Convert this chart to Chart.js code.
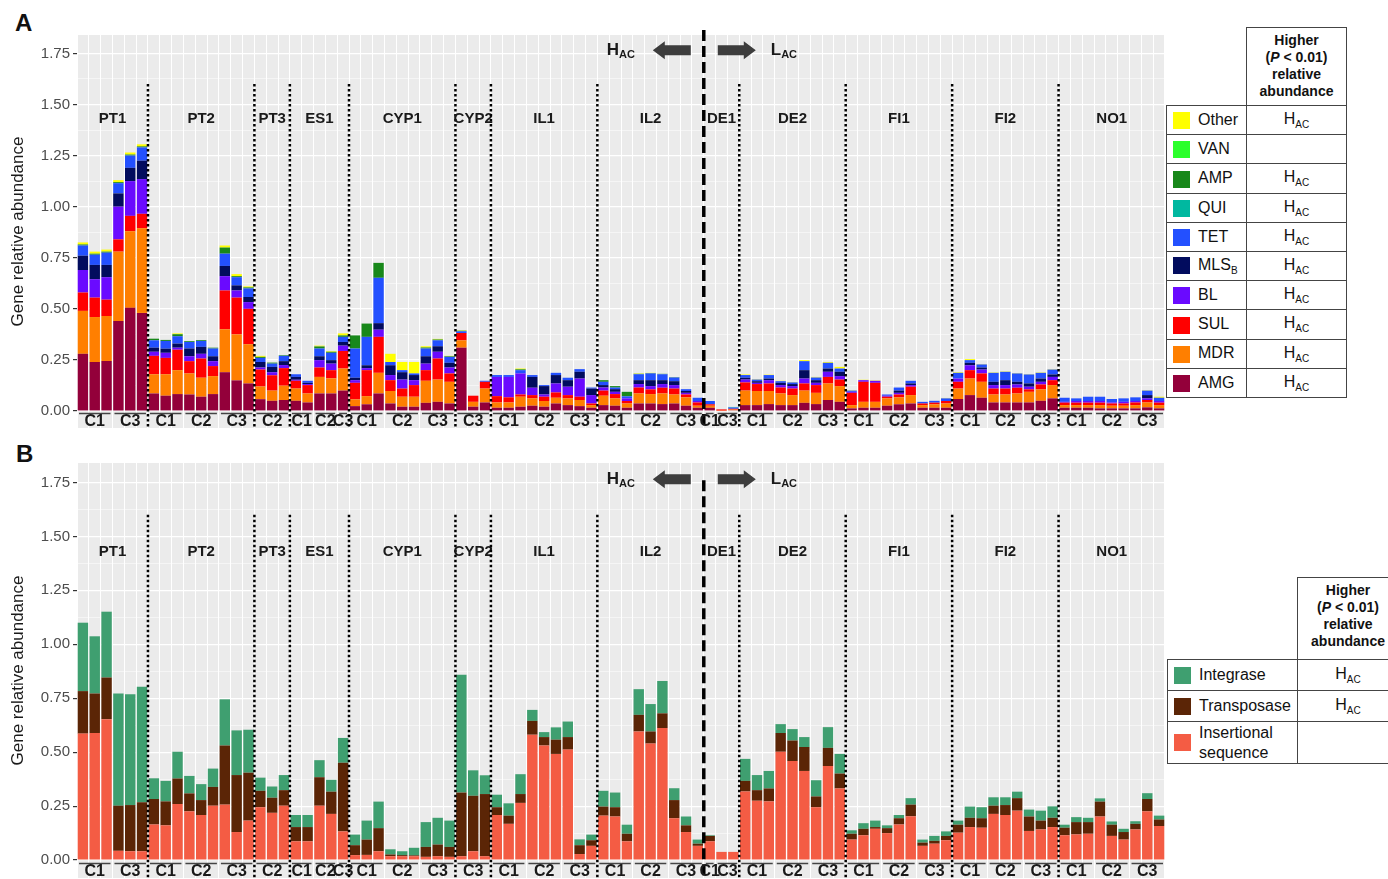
<!DOCTYPE html>
<html>
<head>
<meta charset="utf-8">
<script src="https://cdn.jsdelivr.net/npm/chart.js@4.4.1/dist/chart.umd.min.js"></script>
<style>
  html, body { margin: 0; padding: 0; background: #fff; }
  body { width: 1388px; height: 879px; overflow: hidden; position: relative; font-family: 'Liberation Sans', Arial, sans-serif; color: #111; }
  canvas { position: absolute; left: 0; }
  .letter { position: absolute; font-weight: bold; font-size: 24px; }
  .hdr { position: absolute; box-sizing: border-box; border: 1px solid #444; text-align: center; font-weight: bold; font-size: 14px; line-height: 17px; padding-top: 4px; background: #fff; }
  table.leg { position: absolute; border-collapse: collapse; font-size: 16px; background: #fff; }
  table.leg td { border: 1px solid #444; padding: 0; }
  table.leg td.k { white-space: nowrap; }
  table.leg td.v { text-align: center; }
  .sw { display: inline-block; width: 17px; height: 17px; vertical-align: middle; margin: 0 8px 0 6px; }
  sub { font-size: 10px; vertical-align: -4px; }
</style>
</head>
<body>
<div class="letter" style="left:15px;top:9px">A</div>
<div class="letter" style="left:16px;top:440px">B</div>
<canvas id="chartA" width="1166" height="430" style="top:0px"></canvas>
<canvas id="chartB" width="1166" height="445" style="top:435px"></canvas>
<div class="hdr" style="left:1246px;top:27px;width:101px;height:79px">Higher<br>(<i>P</i> &lt; 0.01)<br>relative<br>abundance</div>
<table class="leg" id="legA" style="left:1166px;top:105px;width:181px"></table>
<div class="hdr" style="left:1297px;top:577px;width:102px;height:83px">Higher<br>(<i>P</i> &lt; 0.01)<br>relative<br>abundance</div>
<table class="leg" id="legB" style="left:1167px;top:659px;width:232px"></table>
<script>
// sites, and the sub-groups (label, number of samples) under each one
const groups = ['PT1', 'PT2', 'PT3', 'ES1', 'CYP1', 'CYP2', 'IL1', 'IL2', 'DE1', 'DE2', 'FI1', 'FI2', 'NO1'];
const subGroups = [
  [['C1', 3], ['C3', 3]],
  [['C1', 3], ['C2', 3], ['C3', 3]],
  [['C2', 3]],
  [['C1', 2], ['C2', 2], ['C3', 1]],
  [['C1', 3], ['C2', 3], ['C3', 3]],
  [['C3', 3]],
  [['C1', 3], ['C2', 3], ['C3', 3]],
  [['C1', 3], ['C2', 3], ['C3', 3]],
  [['C1', 1], ['C3', 2]],
  [['C1', 3], ['C2', 3], ['C3', 3]],
  [['C1', 3], ['C2', 3], ['C3', 3]],
  [['C1', 3], ['C2', 3], ['C3', 3]],
  [['C1', 3], ['C2', 3], ['C3', 3]],
];
const lastHighGroup = 'IL2'; // H_AC sites end here, L_AC sites start after
const yTicks = [0, 0.25, 0.5, 0.75, 1, 1.25, 1.5, 1.75];
const yMinorTicks = [0.125, 0.375, 0.625, 0.875, 1.125, 1.375, 1.625];

// panel A: antibiotic resistance genes
const amg = [
  0.28, 0.24, 0.245, 0.44, 0.505, 0.48,
  0.086, 0.075, 0.083, 0.081, 0.07, 0.083, 0.19, 0.15, 0.135,
  0.058, 0.05, 0.054,
  0.05, 0.042, 0.086, 0.086, 0.1,
  0.024, 0.033, 0.086, 0.037, 0.021, 0.021, 0.04, 0.045, 0.037,
  0.31, 0.021, 0.042,
  0.016, 0.016, 0.021, 0.026, 0.021, 0.037, 0.029, 0.024, 0.016,
  0.029, 0.026, 0.016, 0.037, 0.037, 0.034, 0.037, 0.026, 0.016,
  0.016, 0, 0.004,
  0.029, 0.029, 0.034, 0.029, 0.029, 0.04, 0.034, 0.054, 0.045,
  0.013, 0.016, 0.016, 0.026, 0.033, 0.037, 0.016, 0.016, 0.016,
  0.059, 0.078, 0.065, 0.042, 0.042, 0.042, 0.042, 0.05, 0.062,
  0.016, 0.016, 0.016, 0.013, 0.013, 0.013, 0.013, 0.018, 0.013,
];
const mdr = [
  0.21, 0.22, 0.22, 0.34, 0.375, 0.415,
  0.094, 0.105, 0.117, 0.103, 0.093, 0.088, 0.21, 0.225, 0.192,
  0.062, 0.05, 0.07,
  0.06, 0.044, 0.081, 0.074, 0.108,
  0.033, 0.04, 0.101, 0.061, 0.049, 0.049, 0.108, 0.109, 0.106,
  0.036, 0.024, 0.068,
  0.026, 0.026, 0.049, 0.036, 0.028, 0.028, 0.033, 0.03, 0.013,
  0.046, 0.036, 0.021, 0.049, 0.046, 0.052, 0.044, 0.041, 0.01,
  0.01, 0.002, 0.003,
  0.071, 0.069, 0.064, 0.057, 0.049, 0.06, 0.055, 0.081, 0.077,
  0.016, 0.029, 0.029, 0.036, 0.034, 0.041, 0.013, 0.017, 0.021,
  0.051, 0.081, 0.078, 0.039, 0.039, 0.044, 0.052, 0.056, 0.065,
  0.013, 0.013, 0.013, 0.016, 0.013, 0.013, 0.016, 0.024, 0.016,
];
const sul = [
  0.09, 0.095, 0.08, 0.06, 0.075, 0.07,
  0.09, 0.08, 0.1, 0.06, 0.094, 0.049, 0.19, 0.18, 0.173,
  0.083, 0.075, 0.086,
  0.038, 0.041, 0.046, 0.04, 0.086,
  0.081, 0.127, 0.176, 0.053, 0.04, 0.057, 0.052, 0.103, 0.041,
  0.036, 0.03, 0.033,
  0.031, 0.025, 0.011, 0.016, 0.021, 0.026, 0.016, 0.016, 0.008,
  0.025, 0.021, 0.012, 0.029, 0.023, 0.028, 0.029, 0.014, 0.016,
  0.007, 0.006, 0.004,
  0.04, 0.034, 0.037, 0.029, 0.032, 0.035, 0.038, 0.032, 0.032,
  0.06, 0.098, 0.093, 0.008, 0.014, 0.041, 0.008, 0.008, 0.012,
  0.033, 0.041, 0.041, 0.029, 0.029, 0.028, 0.012, 0.024, 0.024,
  0.012, 0.012, 0.012, 0.012, 0.011, 0.011, 0.013, 0.012, 0.012,
];
const bl = [
  0.11, 0.09, 0.11, 0.16, 0.17, 0.17,
  0.02, 0.025, 0.01, 0.024, 0.023, 0.024, 0.07, 0.035, 0.033,
  0.01, 0.015, 0.015,
  0.005, 0.005, 0.036, 0.032, 0.026,
  0.013, 0.01, 0.035, 0.025, 0.044, 0.024, 0.032, 0.033, 0.029,
  0, 0, 0,
  0.094, 0.1, 0.103, 0.036, 0.011, 0.044, 0.041, 0.089, 0.041,
  0.015, 0.011, 0.013, 0.017, 0.016, 0.018, 0.017, 0.008, 0.007,
  0, 0, 0,
  0.014, 0.006, 0.016, 0.012, 0.012, 0.024, 0.011, 0.025, 0.017,
  0.005, 0.008, 0.01, 0.005, 0.008, 0.008, 0, 0, 0,
  0.016, 0.024, 0.019, 0.017, 0.017, 0.016, 0.013, 0.013, 0.016,
  0.004, 0.008, 0.008, 0.008, 0.005, 0.008, 0.007, 0.008, 0.008,
];
const mlsb = [
  0.07, 0.07, 0.06, 0.065, 0.065, 0.09,
  0.02, 0.02, 0.02, 0.038, 0.034, 0.024, 0.05, 0.025, 0.025,
  0.027, 0.026, 0.019,
  0.014, 0.006, 0.019, 0.017, 0.018,
  0.012, 0.014, 0.032, 0.048, 0.036, 0.025, 0.036, 0.027, 0.023,
  0, 0, 0,
  0, 0, 0, 0.053, 0.041, 0.041, 0.032, 0.033, 0.032,
  0.012, 0.013, 0, 0.019, 0.029, 0.019, 0.019, 0.009, 0,
  0, 0, 0,
  0.009, 0.008, 0.008, 0.011, 0.01, 0.041, 0.013, 0.016, 0.021,
  0, 0, 0, 0, 0.011, 0.008, 0, 0, 0,
  0, 0.012, 0.01, 0.016, 0.024, 0.013, 0.016, 0.016, 0.012,
  0, 0, 0, 0, 0, 0, 0, 0.016, 0,
];
const tet = [
  0.05, 0.05, 0.06, 0.05, 0.06, 0.065,
  0.036, 0.038, 0.036, 0.032, 0.029, 0.038, 0.06, 0.04, 0.042,
  0.02, 0.016, 0.026,
  0.013, 0.01, 0.038, 0.036, 0.025,
  0.143, 0.139, 0.222, 0.016, 0.01, 0.008, 0.038, 0.029, 0.029,
  0.008, 0, 0.005,
  0.009, 0.009, 0.016, 0.009, 0.005, 0.011, 0.012, 0.013, 0.005,
  0.016, 0.008, 0.01, 0.029, 0.033, 0.029, 0.018, 0.009, 0.016,
  0.016, 0, 0.006,
  0.013, 0.008, 0.017, 0.008, 0.008, 0.044, 0.013, 0.028, 0.016,
  0.006, 0, 0, 0.006, 0.015, 0.013, 0.008, 0.009, 0.013,
  0.028, 0.013, 0.015, 0.044, 0.041, 0.041, 0.044, 0.028, 0.024,
  0.02, 0.013, 0.021, 0.021, 0.017, 0.017, 0.018, 0.022, 0.016,
];
const qui = [
  0, 0, 0, 0, 0, 0,
  0, 0, 0, 0, 0, 0, 0, 0, 0,
  0, 0, 0,
  0, 0, 0, 0, 0,
  0, 0, 0, 0, 0, 0, 0, 0, 0,
  0, 0, 0,
  0, 0, 0, 0, 0, 0, 0, 0, 0,
  0, 0, 0, 0, 0, 0, 0, 0, 0,
  0, 0, 0.003,
  0, 0, 0, 0, 0, 0, 0, 0, 0,
  0, 0, 0, 0, 0, 0, 0, 0, 0,
  0, 0, 0, 0, 0, 0, 0, 0, 0,
  0, 0, 0, 0, 0, 0, 0, 0, 0,
];
const amp = [
  0.005, 0.005, 0.005, 0.005, 0.005, 0.005,
  0.008, 0.005, 0.01, 0.004, 0.004, 0.004, 0.03, 0.005, 0.005,
  0.005, 0.005, 0.003,
  0, 0, 0.01, 0.005, 0.007,
  0.064, 0.065, 0.073, 0, 0, 0, 0.005, 0.004, 0.003,
  0.003, 0, 0,
  0, 0, 0.004, 0, 0, 0, 0, 0, 0,
  0.008, 0.007, 0.022, 0.002, 0.002, 0.002, 0.002, 0, 0,
  0, 0, 0,
  0, 0, 0, 0, 0, 0, 0, 0, 0,
  0, 0, 0, 0, 0, 0, 0, 0, 0,
  0, 0, 0, 0, 0, 0, 0, 0, 0,
  0, 0, 0, 0, 0, 0, 0, 0, 0,
];
const van = [
  0, 0, 0, 0, 0, 0,
  0, 0, 0, 0, 0, 0, 0, 0, 0,
  0, 0, 0,
  0, 0, 0, 0, 0,
  0, 0, 0, 0, 0, 0, 0, 0, 0,
  0, 0, 0,
  0, 0, 0, 0, 0, 0, 0, 0, 0,
  0, 0, 0, 0, 0, 0, 0, 0, 0,
  0, 0, 0,
  0, 0, 0, 0, 0, 0, 0, 0, 0,
  0, 0, 0, 0, 0, 0, 0, 0, 0,
  0, 0, 0, 0, 0, 0, 0, 0, 0,
  0, 0, 0, 0, 0, 0, 0, 0, 0,
];
const other = [
  0.01, 0.01, 0.01, 0.01, 0.01, 0.01,
  0, 0, 0.004, 0, 0, 0, 0.01, 0.01, 0.005,
  0.005, 0, 0,
  0, 0, 0.004, 0.003, 0.01,
  0, 0, 0, 0.04, 0.04, 0.056, 0.006, 0.003, 0.002,
  0.002, 0, 0,
  0, 0, 0.004, 0, 0, 0, 0, 0, 0,
  0, 0, 0, 0.002, 0.001, 0, 0, 0, 0,
  0, 0, 0,
  0.003, 0.002, 0.002, 0.002, 0.002, 0.005, 0.003, 0.004, 0.008,
  0.002, 0.002, 0.002, 0, 0, 0, 0, 0, 0.002,
  0.003, 0.005, 0.002, 0.002, 0.002, 0.002, 0.002, 0.002, 0.002,
  0, 0, 0, 0, 0, 0, 0, 0.002, 0.005,
];

// panel B: mobile genetic elements
const insertional = [
  0.586, 0.589, 0.653, 0.043, 0.041, 0.041,
  0.165, 0.161, 0.26, 0.226, 0.209, 0.252, 0.257, 0.13, 0.183,
  0.245, 0.219, 0.252,
  0.087, 0.087, 0.252, 0.214, 0.133,
  0.023, 0.024, 0.041, 0.018, 0.018, 0.018, 0.015, 0.018, 0.015,
  0.018, 0.041, 0.018,
  0.209, 0.168, 0.265, 0.581, 0.531, 0.492, 0.512, 0.028, 0.066,
  0.206, 0.202, 0.087, 0.596, 0.54, 0.612, 0.194, 0.13, 0.066,
  0.087, 0.038, 0.038,
  0.318, 0.275, 0.272, 0.502, 0.459, 0.413, 0.245, 0.436, 0.332,
  0.095, 0.115, 0.145, 0.125, 0.165, 0.203, 0.066, 0.076, 0.092,
  0.127, 0.153, 0.15, 0.214, 0.209, 0.229, 0.135, 0.142, 0.153,
  0.115, 0.119, 0.122, 0.202, 0.112, 0.095, 0.142, 0.226, 0.158,
];
const transposase = [
  0.197, 0.183, 0.193, 0.209, 0.214, 0.227,
  0.118, 0.111, 0.118, 0.083, 0.069, 0.087, 0.274, 0.264, 0.222,
  0.076, 0.07, 0.072,
  0.066, 0.066, 0.132, 0.103, 0.318,
  0.046, 0.071, 0.107, 0.008, 0.005, 0.004, 0.046, 0.054, 0.046,
  0.295, 0.257, 0.288,
  0.036, 0.038, 0.041, 0.064, 0.039, 0.066, 0.058, 0.041, 0.026,
  0.042, 0.043, 0.035, 0.077, 0.056, 0.068, 0.084, 0.031, 0.01,
  0.025, 0, 0,
  0.049, 0.049, 0.06, 0.087, 0.095, 0.111, 0.05, 0.084, 0.069,
  0.027, 0.03, 0.008, 0.023, 0.029, 0.054, 0.015, 0.013, 0.02,
  0.037, 0.043, 0.044, 0.038, 0.046, 0.058, 0.067, 0.041, 0.043,
  0.035, 0.057, 0.054, 0.069, 0.052, 0.035, 0.026, 0.057, 0.03,
];
const integrase = [
  0.317, 0.265, 0.305, 0.52, 0.514, 0.535,
  0.096, 0.095, 0.124, 0.081, 0.074, 0.085, 0.214, 0.207, 0.199,
  0.061, 0.052, 0.07,
  0.056, 0.056, 0.079, 0.055, 0.115,
  0.049, 0.088, 0.123, 0.024, 0.018, 0.035, 0.115, 0.124, 0.122,
  0.546, 0.118, 0.087,
  0.058, 0.057, 0.092, 0.051, 0.023, 0.057, 0.072, 0.027, 0.026,
  0.073, 0.068, 0.042, 0.119, 0.127, 0.15, 0.055, 0.041, 0.019,
  0.003, 0, 0,
  0.102, 0.07, 0.081, 0.041, 0.053, 0.046, 0.075, 0.096, 0.091,
  0.016, 0.026, 0.03, 0.013, 0.015, 0.03, 0.014, 0.023, 0.021,
  0.019, 0.052, 0.051, 0.039, 0.036, 0.03, 0.032, 0.046, 0.053,
  0.014, 0.023, 0.02, 0.015, 0.015, 0.015, 0.012, 0.027, 0.018,
];

// one label per sample
const samples = [];
groups.forEach((g, gi) => {
  subGroups[gi].forEach(([c, n]) => {
    for (let k = 1; k <= n; k++) samples.push(g + ' ' + c + '-' + k);
  });
});

// bottom to top of each stack
const argSeries = [
  { label: 'AMG', data: amg, color: '#93003a', higher: true },
  { label: 'MDR', data: mdr, color: '#ff7f00', higher: true },
  { label: 'SUL', data: sul, color: '#ff0000', higher: true },
  { label: 'BL', data: bl, color: '#6a0aff', higher: true },
  { label: 'MLSB', data: mlsb, color: '#020c5e', higher: true },
  { label: 'TET', data: tet, color: '#2350ff', higher: true },
  { label: 'QUI', data: qui, color: '#00b8a0', higher: true },
  { label: 'AMP', data: amp, color: '#18881a', higher: true },
  { label: 'VAN', data: van, color: '#2bff2b', higher: false },
  { label: 'Other', data: other, color: '#ffff00', higher: true },
];
const mgeSeries = [
  { label: 'Insertional sequence', data: insertional, color: '#f45c44', higher: false },
  { label: 'Transposase', data: transposase, color: '#5b2506', higher: true },
  { label: 'Integrase', data: integrase, color: '#3f9f70', higher: true },
];

function blockArrow(ctx, tail, tip, y) {
  const dir = tip > tail ? 1 : -1;
  const head = 12 * dir;
  ctx.beginPath();
  ctx.moveTo(tail, y - 5);
  ctx.lineTo(tip - head, y - 5);
  ctx.lineTo(tip - head, y - 9);
  ctx.lineTo(tip, y);
  ctx.lineTo(tip - head, y + 9);
  ctx.lineTo(tip - head, y + 5);
  ctx.lineTo(tail, y + 5);
  ctx.closePath();
  ctx.fill();
}

function subText(ctx, main, sub, x, y) {
  ctx.font = 'bold 17px "Liberation Sans", Arial';
  ctx.fillText(main, x, y);
  const w = ctx.measureText(main).width;
  ctx.font = 'bold 11px "Liberation Sans", Arial';
  ctx.fillText(sub, x + w, y + 5);
}

const panelMarks = {
  id: 'panelMarks',
  beforeDraw(chart) {
    const { ctx, chartArea: a } = chart;
    ctx.save();
    ctx.fillStyle = '#ebebeb';
    ctx.fillRect(a.left, a.top, a.right - a.left, a.bottom - a.top);
    ctx.restore();
  },
  afterDatasetsDraw(chart, args, opts) {
    const { ctx, chartArea: a, scales: { x, y } } = chart;
    const step = x.getPixelForValue(1) - x.getPixelForValue(0);
    ctx.save();
    ctx.textAlign = 'center';
    ctx.textBaseline = 'middle';
    ctx.fillStyle = '#1a1a1a';
    let idx = 0;
    let splitX = 0;
    groups.forEach((g, gi) => {
      const n = subGroups[gi].reduce((s, d) => s + d[1], 0);
      const x0 = x.getPixelForValue(idx) - step / 2;
      const x1 = x.getPixelForValue(idx + n - 1) + step / 2;
      ctx.font = 'bold 15px "Liberation Sans", Arial';
      ctx.fillText(g, (x0 + x1) / 2, y.getPixelForValue(1.43));
      let j = idx;
      subGroups[gi].forEach(([c, m]) => {
        const s0 = x.getPixelForValue(j) - step / 2;
        const s1 = x.getPixelForValue(j + m - 1) + step / 2;
        ctx.strokeStyle = '#444';
        ctx.lineWidth = 1.5;
        ctx.setLineDash([]);
        ctx.beginPath();
        ctx.moveTo(s0 + 2, a.bottom - 14.5);
        ctx.lineTo(s1 - 2, a.bottom - 14.5);
        ctx.stroke();
        ctx.font = 'bold 16px "Liberation Sans", Arial';
        ctx.fillText(c, (s0 + s1) / 2, a.bottom - 6);
        j += m;
      });
      idx += n;
      if (gi < groups.length - 1) {
        ctx.strokeStyle = '#000';
        ctx.beginPath();
        if (g === lastHighGroup) {
          splitX = x1;
          ctx.lineWidth = 3.5;
          ctx.setLineDash([11, 5]);
          ctx.moveTo(x1, opts.dashTop === null ? a.top - 5 : y.getPixelForValue(opts.dashTop));
        } else {
          ctx.lineWidth = 2.5;
          ctx.setLineDash([2.5, 2.5]);
          ctx.moveTo(x1, y.getPixelForValue(1.6));
        }
        ctx.lineTo(x1, a.bottom);
        ctx.stroke();
      }
    });
    // direction marks around the split line
    const ay = y.getPixelForValue(1.765);
    ctx.setLineDash([]);
    ctx.fillStyle = '#3d3d3d';
    blockArrow(ctx, splitX - 13, splitX - 51, ay);
    blockArrow(ctx, splitX + 14, splitX + 52, ay);
    ctx.fillStyle = '#1a1a1a';
    ctx.textAlign = 'left';
    subText(ctx, 'H', 'AC', splitX - 97, ay);
    subText(ctx, 'L', 'AC', splitX + 67, ay);
    ctx.restore();
  },
};

function makeChart(id, series, padTop, dashTop) {
  return new Chart(document.getElementById(id), {
    type: 'bar',
    data: {
      labels: samples,
      datasets: series.map((s) => ({
        label: s.label,
        data: s.data,
        backgroundColor: s.color,
        borderWidth: 0,
        barPercentage: 0.88,
        categoryPercentage: 1,
      })),
    },
    options: {
      responsive: false,
      animation: false,
      layout: { padding: { top: padTop, bottom: 2, left: 0, right: 1 } },
      plugins: {
        legend: { display: false },
        tooltip: { enabled: false },
        panelMarks: { dashTop: dashTop },
      },
      scales: {
        x: {
          stacked: true,
          ticks: { display: false, autoSkip: false },
          grid: { color: '#ffffff', lineWidth: 1, drawTicks: false },
          border: { display: false },
        },
        y: {
          stacked: true,
          min: -0.083,
          max: 1.84,
          afterBuildTicks: (axis) => {
            axis.ticks = yTicks.concat(yMinorTicks).sort((p, q) => p - q).map((v) => ({ value: v }));
          },
          afterFit: (axis) => {
            axis.width = 77;
            axis.paddingTop = 0;
            axis.paddingBottom = 0;
          },
          ticks: {
            autoSkip: false,
            padding: 3,
            color: '#4d4d4d',
            font: { family: '"Liberation Sans", Arial', size: 15 },
            callback: (v) => (yTicks.includes(v) ? v.toFixed(2) : ''),
          },
          grid: {
            color: '#ffffff',
            lineWidth: (c) => (yTicks.includes(c.tick.value) ? 1.2 : 0.5),
            tickColor: (c) => (yTicks.includes(c.tick.value) ? '#333333' : 'rgba(0,0,0,0)'),
            tickLength: 4,
          },
          border: { display: false },
          title: {
            display: true,
            text: 'Gene relative abundance',
            color: '#1a1a1a',
            font: { family: '"Liberation Sans", Arial', size: 17 },
            padding: { top: 8, bottom: 0 },
          },
        },
      },
    },
    plugins: [panelMarks],
  });
}

makeChart('chartA', argSeries, 35, null);
makeChart('chartB', mgeSeries, 28, 1.76);

// legend tables, top row first
function fillLegend(id, series, rowHeight) {
  const table = document.getElementById(id);
  series.slice().reverse().forEach((s) => {
    const tr = document.createElement('tr');
    tr.style.height = rowHeight + 'px';
    const name = s.label === 'MLSB' ? 'MLS<sub>B</sub>' : s.label.replace(' ', '<br>');
    const wrap = s.label.includes(' ') ? '<span style="display:inline-block;vertical-align:middle;line-height:20px">' + name + '</span>' : name;
    tr.innerHTML = '<td class="k"><span class="sw" style="background:' + s.color + '"></span>' + wrap + '</td>' +
      '<td class="v">' + (s.higher ? 'H<sub>AC</sub>' : '') + '</td>';
    table.appendChild(tr);
  });
}
fillLegend('legA', argSeries, 29.2);
document.querySelectorAll('#legA td.k').forEach((td) => { td.style.width = '79px'; });
fillLegend('legB', mgeSeries, 31);
document.querySelectorAll('#legB td.k').forEach((td) => { td.style.width = '129px'; });
document.querySelector('#legB tr:last-child').style.height = '42px';
</script>
</body>
</html>
